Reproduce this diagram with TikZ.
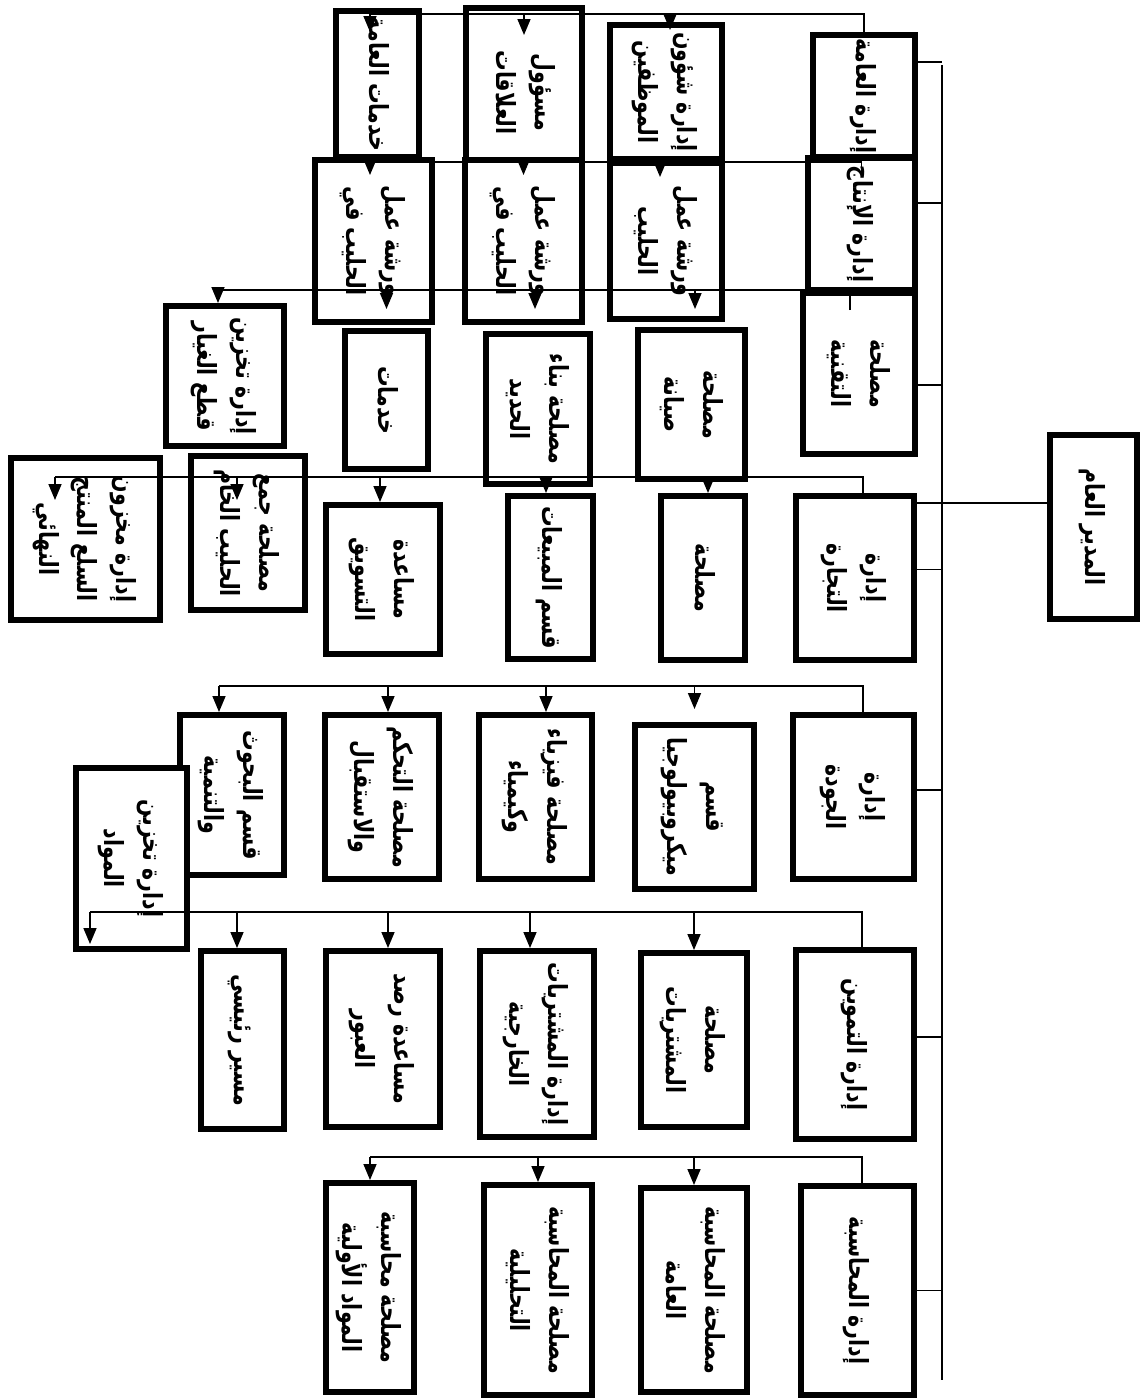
\documentclass[tikz,border=0pt]{standalone}
\usepackage{fontspec}
\usepackage{graphicx}
\newfontfamily\arabicfont[Script=Arabic]{DejaVu Sans}
\TeXXeTstate=1
\usetikzlibrary{arrows.meta}
\newcommand{\ar}[1]{\beginR #1\endR}
\newcommand{\vtext}[1]{\rotatebox{-90}{\scalebox{0.78}[1]{\arabicfont\bfseries\fontsize{15}{22}\selectfont\begin{tabular}{@{}c@{}}#1\end{tabular}}}}

\begin{document}
\begin{tikzpicture}[>={Triangle[length=0.32cm,width=0.26cm]},
 box/.style 2 args={draw,fill=white,line width=3.4pt,minimum width=#1,minimum height=#2,inner sep=0pt},
 link/.style={line width=0.9pt},
 arr/.style={->,line width=0.9pt}]
\useasboundingbox (0,0) rectangle (22.88,-28);
% general manager and departments
\node[box={1.74cm}{3.68cm}] (gm) at (21.87,-10.54) {\vtext{\ar{المدير العام}}};
\node[box={2.04cm}{2.44cm}] (genadm) at (17.28,-1.92) {\vtext{\ar{إدارة العامة}}};
\node[box={2.14cm}{2.64cm}] (prod) at (17.23,-4.48) {\vtext{\ar{إدارة الإنتاج}}};
\node[box={2.24cm}{3.22cm}] (tech) at (17.18,-7.47) {\vtext{\ar{مصلحة}\\\ar{التقنية}}};
\node[box={2.36cm}{3.28cm}] (trade) at (17.1,-11.56) {\vtext{\ar{إدارة}\\\ar{التجارة}}};
\node[box={2.42cm}{3.28cm}] (quality) at (17.07,-15.94) {\vtext{\ar{إدارة}\\\ar{الجودة}}};
\node[box={2.36cm}{3.78cm}] (supply) at (17.1,-20.89) {\vtext{\ar{إدارة التموين}}};
\node[box={2.26cm}{4.18cm}] (acct) at (17.15,-25.81) {\vtext{\ar{إدارة المحاسبة}}};
% first row
\node[box={2.24cm}{2.68cm}] (staff) at (13.32,-1.84) {\vtext{\ar{إدارة شؤون}\\\ar{الموظفين}}};
\node[box={2.32cm}{3.38cm}] (relations) at (10.48,-1.85) {\vtext{\ar{مسؤول}\\\ar{العلاقات}}};
\node[box={1.66cm}{2.92cm}] (gservices) at (7.55,-1.68) {\vtext{\ar{خدمات العامة}}};
% second row
\node[box={2.24cm}{3.12cm}] (dairyA) at (13.32,-4.82) {\vtext{\ar{ورشة عمل}\\\ar{الحليب}}};
\node[box={2.34cm}{3.24cm}] (dairyB) at (10.47,-4.82) {\vtext{\ar{ورشة عمل}\\\ar{الحليب في}}};
\node[box={2.34cm}{3.24cm}] (dairyC) at (7.47,-4.82) {\vtext{\ar{ورشة عمل}\\\ar{الحليب في}}};
% third row
\node[box={2.14cm}{2.98cm}] (maint) at (13.83,-8.09) {\vtext{\ar{مصلحة}\\\ar{صيانة}}};
\node[box={2.08cm}{3.0cm}] (iron) at (10.76,-8.18) {\vtext{\ar{مصلحة بناء}\\\ar{الحديد}}};
\node[box={1.66cm}{2.76cm}] (services) at (7.73,-8.0) {\vtext{\ar{خدمات}}};
\node[box={2.36cm}{2.8cm}] (spares) at (4.5,-7.52) {\vtext{\ar{إدارة تخزين}\\\ar{قطع الغيار}}};
% fourth row
\node[box={1.68cm}{3.28cm}] (office) at (14.06,-11.56) {\vtext{\ar{مصلحة}}};
\node[box={1.7cm}{3.26cm}] (sales) at (11.01,-11.55) {\vtext{\ar{قسم المبيعات}}};
\node[box={2.28cm}{2.98cm}] (marketing) at (7.66,-11.59) {\vtext{\ar{مساعدة}\\\ar{التسويق}}};
\node[box={2.28cm}{3.08cm}] (milk) at (4.96,-10.66) {\vtext{\ar{مصلحة جمع}\\\ar{الحليب الخام}}};
\node[box={2.98cm}{3.24cm}] (goods) at (1.71,-10.78) {\vtext{\ar{إدارة مخزون}\\\ar{السلع المنتج}\\\ar{النهائي}}};
% fifth row
\node[box={2.38cm}{3.28cm}] (micro) at (13.89,-16.14) {\vtext{\ar{قسم}\\\ar{ميكروبيولوجيا}}};
\node[box={2.26cm}{3.28cm}] (physchem) at (10.71,-15.94) {\vtext{\ar{مصلحة فيزياء}\\\ar{وكيمياء}}};
\node[box={2.28cm}{3.28cm}] (control) at (7.64,-15.94) {\vtext{\ar{مصلحة التحكم}\\\ar{والاستقبال}}};
\node[box={2.08cm}{3.2cm}] (research) at (4.64,-15.9) {\vtext{\ar{قسم البحوث}\\\ar{والتنمية}}};
\node[box={2.22cm}{3.62cm}] (materials) at (2.63,-17.17) {\vtext{\ar{إدارة تخزين}\\\ar{المواد}}};
% sixth row
\node[box={2.12cm}{3.48cm}] (purch) at (13.88,-20.8) {\vtext{\ar{مصلحة}\\\ar{المشتريات}}};
\node[box={2.28cm}{3.72cm}] (foreign) at (10.74,-20.88) {\vtext{\ar{إدارة المشتريات}\\\ar{الخارجية}}};
\node[box={2.28cm}{3.52cm}] (transit) at (7.66,-20.78) {\vtext{\ar{مساعدة رصد}\\\ar{العبور}}};
\node[box={1.66cm}{3.56cm}] (chief) at (4.85,-20.8) {\vtext{\ar{مسير رئيسي}}};
% seventh row
\node[box={2.12cm}{4.08cm}] (genacct) at (13.88,-25.8) {\vtext{\ar{مصلحة المحاسبة}\\\ar{العامة}}};
\node[box={2.16cm}{4.2cm}] (analacct) at (10.76,-25.8) {\vtext{\ar{مصلحة المحاسبة}\\\ar{التحليلية}}};
\node[box={1.76cm}{4.18cm}] (rawacct) at (7.4,-25.75) {\vtext{\ar{مصلحة محاسبة}\\\ar{المواد الأولية}}};
% trunk and bus ends
\coordinate (ttop) at (18.84,-1.3);
\coordinate (tbot) at (18.84,-27.6);
\coordinate (bus1) at (7.4,-0.28);
\coordinate (bus2) at (7.4,-3.24);
\coordinate (bus3) at (4.36,-5.8);
\coordinate (bus4) at (1.1,-9.54);
\coordinate (bus5) at (4.38,-13.72);
\coordinate (bus6) at (1.8,-18.24);
\coordinate (bus7) at (7.4,-23.14);
\draw[link] (ttop) -- (tbot);
\draw[link] ([yshift=0.48cm]gm.west) -- ([yshift=0.48cm]gm.west -| trade.east);
\draw[link] ([yshift=-0.6cm]genadm.north east) -- ([yshift=-0.6cm]genadm.north east -| ttop);
\draw[link] ([yshift=0.42cm]prod.east) -- ([yshift=0.42cm]prod.east -| ttop);
\draw[link] ([yshift=-0.23cm]tech.east) -- ([yshift=-0.23cm]tech.east -| ttop);
\draw[link] ([yshift=0.17cm]trade.east) -- ([yshift=0.17cm]trade.east -| ttop);
\draw[link] ([yshift=0.14cm]quality.east) -- ([yshift=0.14cm]quality.east -| ttop);
\draw[link] ([yshift=0.15cm]supply.east) -- ([yshift=0.15cm]supply.east -| ttop);
\draw[link] (acct.east) -- (acct.east -| ttop);
% buses
\draw[link] (genadm.north) |- (bus1);
\draw[link] ([yshift=-0.34cm]prod.north) |- (bus2);
\draw[link] ([xshift=-0.18cm,yshift=-0.4cm]tech.north) |- (bus3);
\draw[link] ([xshift=0.16cm]trade.north) |- (bus4);
\draw[link] ([xshift=0.19cm]quality.north) |- (bus5);
\draw[link] ([xshift=0.14cm]supply.north) |- (bus6);
\draw[link] ([xshift=0.09cm]acct.north) |- (bus7);
% arrows
\draw[arr] ([xshift=0.08cm]staff.north |- bus1) -- ([xshift=0.08cm,yshift=-0.16cm]staff.north);
\draw[arr] (relations.north |- bus1) -- ([yshift=-0.6cm]relations.north);
\draw[arr] ([xshift=-0.15cm]gservices.north |- bus1) -- ([xshift=-0.15cm,yshift=-0.48cm]gservices.north);
\draw[arr] ([xshift=-0.12cm]dairyA.north |- bus2) -- ([xshift=-0.12cm,yshift=-0.34cm]dairyA.north);
\draw[arr] (dairyB.north |- bus2) -- ([yshift=-0.36cm]dairyB.north);
\draw[arr] ([xshift=-0.07cm]dairyC.north |- bus2) -- ([xshift=-0.07cm,yshift=-0.36cm]dairyC.north);
\draw[arr] ([xshift=0.07cm]maint.north |- bus3) -- ([xshift=0.07cm,yshift=0.36cm]maint.north);
\draw[arr] ([xshift=-0.06cm]iron.north |- bus3) -- ([xshift=-0.06cm,yshift=0.44cm]iron.north);
\draw[arr] (services.north |- bus3) -- ([yshift=0.38cm]services.north);
\draw[arr] ([xshift=-0.14cm]spares.north |- bus3) -- ([xshift=-0.14cm]spares.north);
\draw[arr] ([xshift=0.1cm]office.north |- bus4) -- ([xshift=0.1cm]office.north);
\draw[arr] ([xshift=-0.09cm]sales.north |- bus4) -- ([xshift=-0.09cm]sales.north);
\draw[arr] ([xshift=-0.06cm]marketing.north |- bus4) -- ([xshift=-0.06cm]marketing.north);
\draw[arr] ([xshift=-0.22cm]milk.north |- bus4) -- ([xshift=-0.22cm,yshift=-0.94cm]milk.north);
\draw[arr] ([xshift=-0.61cm]goods.north |- bus4) -- ([xshift=-0.61cm,yshift=-0.9cm]goods.north);
\draw[arr] (micro.north |- bus5) -- ([yshift=0.26cm]micro.north);
\draw[arr] ([xshift=0.21cm]physchem.north |- bus5) -- ([xshift=0.21cm]physchem.north);
\draw[arr] ([xshift=0.12cm]control.north |- bus5) -- ([xshift=0.12cm]control.north);
\draw[arr] ([xshift=-0.26cm]research.north |- bus5) -- ([xshift=-0.26cm]research.north);
\draw[arr] (purch.north |- bus6) -- (purch.north);
\draw[arr] ([xshift=-0.14cm]foreign.north |- bus6) -- ([xshift=-0.14cm]foreign.north);
\draw[arr] ([xshift=0.1cm]transit.north |- bus6) -- ([xshift=0.1cm]transit.north);
\draw[arr] ([xshift=-0.11cm]chief.north |- bus6) -- ([xshift=-0.11cm]chief.north);
\draw[arr] ([xshift=-0.83cm]materials.north |- bus6) -- ([xshift=-0.83cm,yshift=-3.58cm]materials.north);
\draw[arr] (genacct.north |- bus7) -- (genacct.north);
\draw[arr] (analacct.north |- bus7) -- (analacct.north);
\draw[arr] (rawacct.north |- bus7) -- (rawacct.north);
\end{tikzpicture}
\end{document}
